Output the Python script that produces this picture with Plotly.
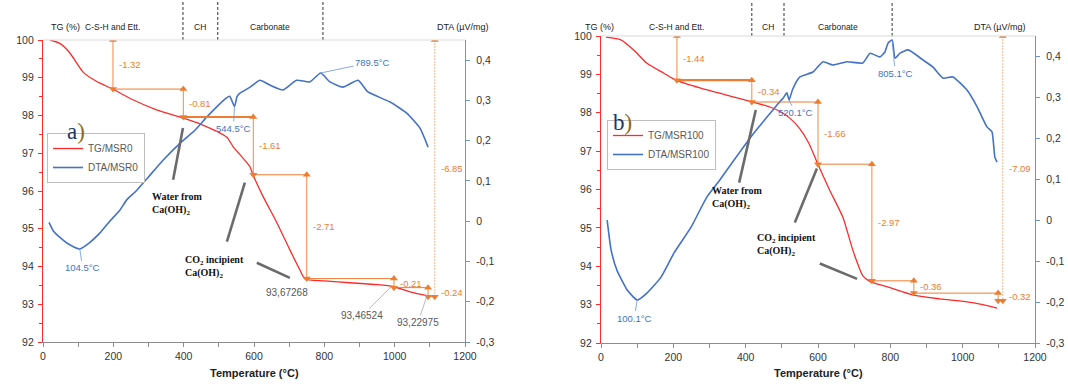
import plotly.graph_objects as go

W, H = 1068, 391

# ---------------- data ----------------
# Panel a) MSR0
a_tg_temp = [20, 48, 77, 114, 153, 196, 257, 323, 399, 446, 522, 541, 588, 597, 626, 665, 702, 731, 745, 800, 873, 950, 996, 1044, 1092]
a_tg_val = [100.0, 99.91, 99.65, 99.15, 98.90, 98.71, 98.41, 98.15, 97.93, 97.78, 97.43, 97.17, 96.65, 96.43, 95.85, 95.16, 94.44, 93.90, 93.67, 93.62, 93.57, 93.52, 93.47, 93.33, 93.23]
a_dta_temp = [17, 30, 48, 75, 104.5, 130, 162, 190, 219, 238, 267, 300, 342, 390, 432, 466, 494, 520, 531, 544.5, 552, 560, 589, 617, 645, 683, 721, 759, 789.5, 816, 853, 896, 924, 987, 1035, 1072, 1095]
a_dta_val = [-0.003, -0.025, -0.040, -0.058, -0.069, -0.055, -0.029, 0.0, 0.028, 0.053, 0.077, 0.11, 0.152, 0.194, 0.226, 0.259, 0.284, 0.305, 0.31, 0.285, 0.31, 0.318, 0.333, 0.35, 0.338, 0.326, 0.35, 0.346, 0.368, 0.346, 0.333, 0.35, 0.321, 0.296, 0.268, 0.231, 0.184]
a_step_temp = [199, 399, 598, 750, 998, 1095]
a_step_level = [100.0, 98.70, 97.96, 96.43, 93.68, 93.44, 93.20]
a_step_label = ["-1.32", "-0.81", "-1.61", "-2.71", "-0.21", "-0.24"]
a_total_temp = 1114
a_total_label = "-6.85"
a_zone_temp = [0, 398, 497, 796]
a_peak_temp = [104.5, 544.5, 789.5]
a_peak_dta = [-0.069, 0.285, 0.368]
a_peak_label = ["104.5°C", "544.5°C", "789.5°C"]
a_mass_temp = [745, 990, 1092]
a_mass_val = [93.67, 93.465, 93.23]
a_mass_label = ["93,67268", "93,46524", "93,22975"]
a_water_leader = [(398, 97.67), (370, 96.30)]
a_co2_leaders = [[(574, 96.22), (523, 94.66)], [(608, 94.10), (702, 93.70)]]

# Panel b) MSR100
b_tg_temp = [14, 55, 91, 127, 174, 207, 276, 368, 423, 467, 498, 522, 550, 575, 600, 633, 669, 697, 724, 744, 760, 799, 863, 937, 1028, 1095]
b_tg_val = [99.97, 99.90, 99.63, 99.29, 99.03, 98.85, 98.64, 98.41, 98.27, 98.15, 98.02, 97.86, 97.58, 97.20, 96.65, 95.97, 95.27, 94.40, 93.75, 93.60, 93.55, 93.44, 93.25, 93.15, 93.05, 92.91]
b_dta_temp = [17, 28, 44, 72, 100.1, 127, 166, 202, 249, 293, 330, 368, 420, 459, 490, 505, 514, 520.1, 530, 550, 586, 614, 641, 680, 724, 744, 771, 785, 794, 805.1, 813, 827, 849, 891, 918, 946, 973, 1012, 1040, 1067, 1081, 1089, 1095]
b_dta_val = [0.0, -0.073, -0.122, -0.17, -0.195, -0.178, -0.139, -0.08, -0.017, 0.057, 0.10, 0.147, 0.21, 0.252, 0.285, 0.30, 0.311, 0.294, 0.32, 0.35, 0.362, 0.387, 0.379, 0.387, 0.384, 0.408, 0.399, 0.411, 0.433, 0.44, 0.396, 0.408, 0.416, 0.391, 0.374, 0.347, 0.35, 0.318, 0.277, 0.228, 0.216, 0.154, 0.142]
b_step_temp = [210, 417, 600, 749, 865, 1098]
b_step_level = [100.0, 98.85, 98.28, 96.66, 93.62, 93.30, 93.10]
b_step_label = ["-1.44", "-0.34", "-1.66", "-2.97", "-0.36", "-0.32"]
b_total_temp = 1111
b_total_label = "-7.09"
b_zone_temp = [0, 417, 506, 805]
b_peak_temp = [100.1, 520.1, 805.1]
b_peak_dta = [-0.195, 0.294, 0.44]
b_peak_label = ["100.1°C", "520.1°C", "805.1°C"]
b_water_leader = [(428, 98.07), (382, 96.18)]
b_co2_leaders = [[(597, 96.55), (536, 95.14)], [(605, 94.07), (708, 93.67)]]

zone_names = ["C-S-H and Ett.", "CH", "Carbonate"]
temp_ticks = [0, 200, 400, 600, 800, 1000, 1200]
tg_ticks = [92, 93, 94, 95, 96, 97, 98, 99, 100]
dta_tick_vals = [-0.3, -0.2, -0.1, 0.0, 0.1, 0.2, 0.3, 0.4]
dta_tick_text = ["-0,3", "-0,2", "-0,1", "0", "0,1", "0,2", "0,3", "0,4"]

# ---------------- style ----------------
RED = "#FF2A2A"
BLUE = "#4472C4"
AXBLUE = "#6A93D8"
ORANGE = "#ED7D31"
ORANGE_LIGHT = "rgba(237,125,49,0.6)"
GRAY = "#595959"
TXT = "#333333"
FONT = "Liberation Sans, Arial, sans-serif"
SERIF = "Liberation Serif, Times New Roman, serif"
HEAD = 7


def px(x):
    return x / W


def py(y):
    return 1 - y / H


fig = go.Figure()

panels = [
    dict(x="x", y="y", y2="y2", tg_t=a_tg_temp, tg=a_tg_val, dta_t=a_dta_temp, dta=a_dta_val,
         name_tg="TG/MSR0", name_dta="DTA/MSR0", legend="legend"),
    dict(x="x2", y="y3", y2="y4", tg_t=b_tg_temp, tg=b_tg_val, dta_t=b_dta_temp, dta=b_dta_val,
         name_tg="TG/MSR100", name_dta="DTA/MSR100", legend="legend2"),
]

for p in panels:
    fig.add_trace(go.Scatter(x=p["tg_t"], y=p["tg"], mode="lines", name=p["name_tg"],
                             line=dict(color=RED, width=1.3, shape="spline", smoothing=0.6),
                             xaxis=p["x"], yaxis=p["y"], legend=p["legend"]))
    fig.add_trace(go.Scatter(x=p["dta_t"], y=p["dta"], mode="lines", name=p["name_dta"],
                             line=dict(color=BLUE, width=1.6, shape="spline", smoothing=0.5),
                             xaxis=p["x"], yaxis=p["y2"], legend=p["legend"]))

annotations = []
shapes = []


def add_steps(xr, yr, temps, levels, labels, total_t, total_label, thick_idx):
    n = len(temps)
    vx, vy = [], []
    up_x, up_y, dn_x, dn_y = [], [], [], []
    for i in range(n):
        vx += [temps[i], temps[i], None]
        vy += [levels[i], levels[i + 1], None]
        up_x.append(temps[i]); up_y.append(levels[i])
        dn_x.append(temps[i]); dn_y.append(levels[i + 1])
        x_end = temps[i + 1] if i + 1 < n else total_t
        shapes.append(dict(type="line", xref=xr, yref=yr, x0=temps[i], x1=x_end,
                           y0=levels[i + 1], y1=levels[i + 1],
                           line=dict(color=ORANGE, width=2.2 if i == thick_idx else 1)))
        lx = temps[i] if i + 1 < n else total_t
        annotations.append(dict(x=lx, y=(levels[i] + levels[i + 1]) / 2, xref=xr, yref=yr,
                                text=labels[i], showarrow=False, xanchor="left", xshift=4,
                                font=dict(color=ORANGE, size=9.5, family=FONT)))
    fig.add_trace(go.Scatter(x=vx, y=vy, mode="lines", line=dict(color=ORANGE, width=0.9),
                             showlegend=False, hoverinfo="skip", xaxis=xr, yaxis=yr))
    fig.add_trace(go.Scatter(x=up_x, y=up_y, mode="markers", showlegend=False, hoverinfo="skip",
                             marker=dict(symbol="triangle-up", size=HEAD, color=ORANGE,
                                         line=dict(width=0)), xaxis=xr, yaxis=yr))
    fig.add_trace(go.Scatter(x=dn_x, y=dn_y, mode="markers", showlegend=False, hoverinfo="skip",
                             marker=dict(symbol="triangle-down", size=HEAD, color=ORANGE,
                                         line=dict(width=0)), xaxis=xr, yaxis=yr))
    # total loss arrow
    fig.add_trace(go.Scatter(x=[total_t, total_t], y=[levels[0], levels[-1]], mode="lines+markers",
                             line=dict(color=ORANGE_LIGHT, width=0.9, dash="2px,1px"),
                             marker=dict(symbol=["triangle-up", "triangle-down"], size=HEAD, color=ORANGE,
                                         line=dict(width=0)),
                             showlegend=False, hoverinfo="skip", xaxis=xr, yaxis=yr))
    annotations.append(dict(x=total_t, y=(levels[0] + levels[-1]) / 2, xref=xr, yref=yr,
                            text=total_label, showarrow=False, xanchor="left", xshift=4,
                            font=dict(color=ORANGE, size=9.5, family=FONT)))


add_steps("x", "y", a_step_temp, a_step_level, a_step_label, a_total_temp, a_total_label, 1)
add_steps("x2", "y3", b_step_temp, b_step_level, b_step_label, b_total_temp, b_total_label, 0)

# peak labels (blue)
a_peak_off = [(3, 19), (-1, 22), (52, -11)]
b_peak_off = [(-3, 18), (6, 13), (3, 33)]
for xr, yr, temps, vals, labs, offs in [("x", "y2", a_peak_temp, a_peak_dta, a_peak_label, a_peak_off),
                                        ("x2", "y4", b_peak_temp, b_peak_dta, b_peak_label, b_peak_off)]:
    for t, v, lab, (ox, oy) in zip(temps, vals, labs, offs):
        annotations.append(dict(x=t, y=v, xref=xr, yref=yr, text=lab, showarrow=True, ax=ox, ay=oy,
                                arrowhead=0, arrowwidth=0.8, arrowcolor=AXBLUE,
                                font=dict(color=BLUE, size=9.5, family=FONT)))

# mass labels (gray) panel a
annotations.append(dict(x=a_mass_temp[0], y=a_mass_val[0], xref="x", yref="y", text=a_mass_label[0],
                        showarrow=False, xshift=-18, yshift=-14,
                        font=dict(color=GRAY, size=10, family=FONT)))
for t, v, lab, (ox, oy) in zip(a_mass_temp[1:], a_mass_val[1:], a_mass_label[1:], [(-29, 29), (-9, 27)]):
    annotations.append(dict(x=t, y=v, xref="x", yref="y", text=lab, showarrow=True, ax=ox, ay=oy,
                            arrowhead=0, arrowwidth=0.7, arrowcolor="#9a9a9a",
                            font=dict(color=GRAY, size=10, family=FONT)))

# thick gray leader lines
for xr, yr, leaders in [("x", "y", [a_water_leader] + a_co2_leaders), ("x2", "y3", [b_water_leader] + b_co2_leaders)]:
    for (p0, p1) in leaders:
        shapes.append(dict(type="line", xref=xr, yref=yr, x0=p0[0], y0=p0[1], x1=p1[0], y1=p1[1],
                           line=dict(color="#6b6b6b", width=2.6)))

# descriptive texts
water_txt = "Water from<br>Ca(OH)<sub>2</sub>"
co2_txt = "CO<sub>2</sub> incipient<br>Ca(OH)<sub>2</sub>"
for (lx, cy, txt) in [(150, 204, water_txt), (183, 267, co2_txt), (710, 198, water_txt), (755, 245, co2_txt)]:
    annotations.append(dict(x=px(lx), y=py(cy), xref="paper", yref="paper", text=txt, showarrow=False,
                            xanchor="left", yanchor="middle", align="left",
                            font=dict(color="#111111", size=10, family=SERIF, weight="bold")))

# panel letters
annotations.append(dict(x=px(65), y=py(117), xref="paper", yref="paper", showarrow=False,
                        text="a<span style='color:#8a6a1c'>)</span>",
                        font=dict(color="#1F3864", size=23, family=SERIF)))
annotations.append(dict(x=px(622), y=py(108), xref="paper", yref="paper", showarrow=False,
                        text="b<span style='color:#8a6a1c'>)</span>",
                        font=dict(color="#1F3864", size=23, family=SERIF)))

# header row
for xr, zones, tgx, dtax, top in [("x", a_zone_temp, 49, 463, 40), ("x2", b_zone_temp, 599, 1028, 36)]:
    annotations.append(dict(x=px(tgx), y=py(20), xref="paper", yref="paper", text="TG (%)", showarrow=False,
                            font=dict(color="#222222", size=9, family=FONT)))
    annotations.append(dict(x=px(dtax), y=py(20), xref="paper", yref="paper", text="DTA (µV/mg)", showarrow=False,
                            font=dict(color="#222222", size=9, family=FONT)))
    for i, nm in enumerate(zone_names):
        annotations.append(dict(x=(zones[i] + zones[i + 1]) / 2, y=py(20), xref=xr, yref="paper", text=nm,
                                showarrow=False, font=dict(color="#222222", size=8.5, family=FONT)))
    for zt in zones[1:]:
        shapes.append(dict(type="line", xref=xr, yref="paper", x0=zt, x1=zt, y0=py(top), y1=py(2),
                           line=dict(color="#333333", width=1, dash="3px,2px")))

# x axis titles
for xr in ["x", "x2"]:
    annotations.append(dict(x=0.5, y=py(381), xref=xr + " domain", yref="paper", text="Temperature (°C)",
                            showarrow=False, font=dict(color="#222222", size=11, family=FONT, weight="bold")))

# top plot border
for xr, yr in [("x", "y"), ("x2", "y3")]:
    shapes.append(dict(type="line", xref=xr + " domain", yref=yr + " domain", x0=0, x1=1, y0=1, y1=1,
                       line=dict(color="#d9d9d9", width=1)))

xcommon = dict(range=[0, 1200], tickvals=temp_ticks, ticks="outside", ticklen=4, tickcolor="#8c8c8c",
               showline=True, linecolor="#8c8c8c", linewidth=1, showgrid=False, zeroline=False,
               minor=dict(dtick=100, tick0=0, ticks="outside", ticklen=4, tickcolor="#8c8c8c"),
               tickfont=dict(size=10.5, color=TXT, family=FONT), automargin=False)
ycommon = dict(range=[92, 100], tickvals=tg_ticks, ticks="outside", ticklen=4, tickcolor=RED,
               showline=True, linecolor=RED, linewidth=1.2, showgrid=False, zeroline=False,
               minor=dict(dtick=0.5, tick0=92, ticks="outside", ticklen=3, tickcolor=RED),
               tickfont=dict(size=10.5, color=TXT, family=FONT), ticklabelstandoff=2, automargin=False)
y2common = dict(range=[-0.3, 0.45], tickvals=dta_tick_vals, ticktext=dta_tick_text, ticks="outside",
                ticklen=4, tickcolor=AXBLUE, showline=True, linecolor=AXBLUE, linewidth=1.2,
                showgrid=False, zeroline=False, side="right",
                tickfont=dict(size=10.5, color=TXT, family=FONT), ticklabelstandoff=4, automargin=False)

fig.update_layout(
    width=W, height=H, margin=dict(l=0, r=0, t=0, b=0, autoexpand=False),
    paper_bgcolor="white", plot_bgcolor="white",
    font=dict(family=FONT, color=TXT),
    xaxis=dict(domain=[px(43), px(465)], anchor="y", **xcommon),
    yaxis=dict(domain=[py(342), py(40)], anchor="x", **ycommon),
    yaxis2=dict(overlaying="y", anchor="x", **y2common),
    xaxis2=dict(domain=[px(601), px(1035)], anchor="y3", **xcommon),
    yaxis3=dict(domain=[py(343), py(36)], anchor="x2", **ycommon),
    yaxis4=dict(overlaying="y3", anchor="x2", **y2common),
    showlegend=True,
    legend=dict(x=px(47), y=py(133), xanchor="left", yanchor="top", bgcolor="white",
                bordercolor="#bfbfbf", borderwidth=1, font=dict(size=10, color=GRAY, family=FONT),
                itemwidth=30, tracegroupgap=0),
    legend2=dict(x=px(607), y=py(120), xanchor="left", yanchor="top", bgcolor="white",
                 bordercolor="#bfbfbf", borderwidth=1, font=dict(size=10, color=GRAY, family=FONT),
                 itemwidth=30, tracegroupgap=0),
    annotations=annotations,
    shapes=shapes,
)

fig.write_html("out.html", config={"displayModeBar": False},
               post_script="document.body.style.margin='0px';document.body.style.padding='0px';")
